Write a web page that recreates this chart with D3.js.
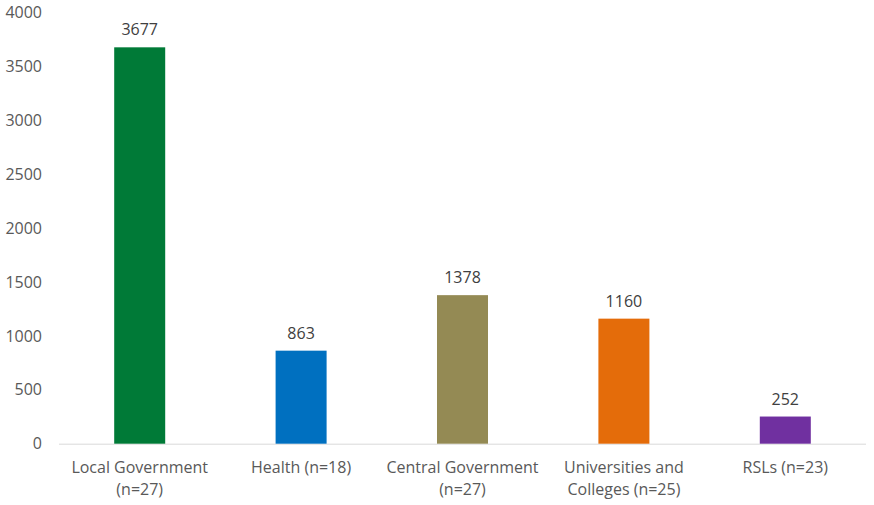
<!DOCTYPE html>
<html><head><meta charset="utf-8">
<script src="https://cdn.jsdelivr.net/npm/d3@7"></script>
<style>body{margin:0;background:#fff}svg{display:block}text{font-family:"Open Sans",sans-serif}</style>
</head><body>
<svg id="c" width="874" height="505"></svg>
<script>
const categories = [["Local Government","(n=27)"],["Health (n=18)"],["Central Government","(n=27)"],["Universities and","Colleges (n=25)"],["RSLs (n=23)"]];
const values = [3677, 863, 1378, 1160, 252];
const colors = ["#007A37","#0070C0","#948A54","#E46C0A","#7030A0"];
const yTicks = [0,500,1000,1500,2000,2500,3000,3500,4000];

const svg = d3.select("#c");
const mLeft = 59, mRight = 866, mTop = 12.5, mBottom = 443.7;
const x = d3.scaleBand().domain(d3.range(values.length)).range([mLeft, mRight]).paddingInner(0.684).paddingOuter(0.342);
const y = d3.scaleLinear().domain([0, 4000]).range([mBottom, mTop]);

const yAxis = d3.axisLeft(y).tickValues(yTicks).tickFormat(d3.format("d")).tickSize(0).tickPadding(17);
const gy = svg.append("g").attr("transform", `translate(${mLeft},0)`).call(yAxis);
gy.select(".domain").remove();
gy.selectAll("text").attr("fill","#595959").style("font-size","16px").style("font-family","'Open Sans',sans-serif");

svg.append("line").attr("x1",mLeft).attr("x2",mRight).attr("y1",mBottom+0.5).attr("y2",mBottom+0.5).attr("stroke","#D9D9D9").attr("stroke-width",1);

svg.selectAll("rect.bar").data(values).join("rect").attr("class","bar")
  .attr("x",(d,i)=>x(i)).attr("width",x.bandwidth())
  .attr("y",d=>y(d)).attr("height",d=>mBottom-y(d))
  .attr("fill",(d,i)=>colors[i]);

svg.selectAll("text.val").data(values).join("text").attr("class","val")
  .attr("x",(d,i)=>x(i)+x.bandwidth()/2).attr("y",d=>y(d)-12)
  .attr("text-anchor","middle").attr("fill","#404040").style("font-size","16px").text(d=>d);

const gl = svg.selectAll("g.cat").data(categories).join("g").attr("class","cat");
gl.each(function(lines,i){
  const g = d3.select(this);
  lines.forEach((t,j)=>{
    g.append("text").attr("x",x(i)+x.bandwidth()/2).attr("y",473+j*22)
      .attr("text-anchor","middle").attr("fill","#595959").style("font-size","16px").text(t);
  });
});
</script>
</body></html>
